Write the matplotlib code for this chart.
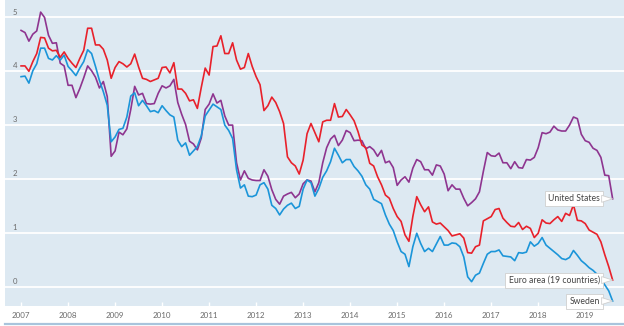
import numpy as np
import matplotlib
matplotlib.use("Agg")
import matplotlib.pyplot as plt
from matplotlib.lines import Line2D
from matplotlib.patches import Polygon
from matplotlib.transforms import IdentityTransform
from matplotlib import font_manager

# long-term interest rates, monthly, Jan 2007 - Aug 2019 (% per annum)
years = list(range(2007, 2020))

sweden = [
    3.90, 3.91, 3.78, 4.01, 4.14, 4.43, 4.43, 4.24, 4.21, 4.29, 4.21, 4.30,
    4.09, 4.01, 3.92, 4.06, 4.18, 4.40, 4.33, 4.09, 3.83, 3.62, 3.37, 2.69,
    2.78, 2.92, 2.94, 3.15, 3.54, 3.60, 3.36, 3.46, 3.36, 3.25, 3.27, 3.23,
    3.36, 3.27, 3.19, 3.15, 2.72, 2.60, 2.67, 2.44, 2.52, 2.60, 2.80, 3.17,
    3.28, 3.39, 3.34, 3.29, 3.00, 2.90, 2.75, 2.17, 1.83, 1.89, 1.68, 1.67,
    1.70, 1.89, 1.93, 1.81, 1.51, 1.45, 1.33, 1.44, 1.51, 1.55, 1.45, 1.49,
    1.81, 1.98, 1.93, 1.68, 1.82, 2.03, 2.15, 2.32, 2.57, 2.44, 2.30, 2.36,
    2.36, 2.23, 2.15, 2.05, 1.89, 1.81, 1.62, 1.58, 1.54, 1.33, 1.16, 1.04,
    0.83, 0.65, 0.60, 0.37, 0.74, 0.99, 0.80, 0.65, 0.71, 0.65, 0.79, 0.93,
    0.77, 0.77, 0.81, 0.80, 0.74, 0.55, 0.18, 0.09, 0.21, 0.25, 0.43, 0.60,
    0.65, 0.65, 0.68, 0.57, 0.56, 0.55, 0.48, 0.63, 0.62, 0.64, 0.83, 0.75,
    0.80, 0.91, 0.77, 0.71, 0.65, 0.59, 0.52, 0.50, 0.54, 0.67, 0.58, 0.48,
    0.42, 0.35, 0.30, 0.23, 0.15, 0.03, -0.08, -0.27,
]

euro_area = [
    4.10, 4.10, 4.00, 4.18, 4.33, 4.63, 4.62, 4.43, 4.38, 4.39, 4.26, 4.36,
    4.24, 4.15, 4.07, 4.24, 4.39, 4.80, 4.80, 4.49, 4.49, 4.41, 4.21, 3.87,
    4.07, 4.18, 4.14, 4.08, 4.14, 4.32, 4.08, 3.87, 3.85, 3.81, 3.84, 3.87,
    4.07, 4.08, 3.97, 4.16, 3.67, 3.67, 3.59, 3.45, 3.47, 3.31, 3.70, 4.06,
    3.93, 4.46, 4.47, 4.66, 4.33, 4.33, 4.53, 4.21, 4.04, 4.07, 4.33, 4.09,
    3.90, 3.75, 3.27, 3.36, 3.52, 3.42, 3.25, 3.03, 2.41, 2.30, 2.24, 2.09,
    2.35, 2.84, 3.03, 2.86, 2.69, 3.06, 3.09, 3.09, 3.40, 3.15, 3.16, 3.29,
    3.19, 3.08, 2.88, 2.63, 2.58, 2.29, 2.24, 2.04, 1.89, 1.70, 1.64, 1.45,
    1.30, 1.21, 0.96, 0.84, 1.30, 1.67, 1.52, 1.39, 1.48, 1.20, 1.16, 1.18,
    1.11, 1.04, 0.94, 0.96, 0.98, 0.90, 0.63, 0.62, 0.74, 0.77, 1.22, 1.26,
    1.30, 1.43, 1.45, 1.27, 1.19, 1.12, 1.11, 1.19, 1.06, 1.12, 1.08, 0.91,
    0.99, 1.24, 1.18, 1.17, 1.24, 1.30, 1.21, 1.36, 1.32, 1.52, 1.23, 1.22,
    1.17, 1.05, 1.01, 0.97, 0.83, 0.59, 0.37, 0.12,
]

united_states = [
    4.76, 4.72, 4.56, 4.69, 4.75, 5.10, 5.00, 4.67, 4.52, 4.53, 4.15, 4.10,
    3.74, 3.74, 3.51, 3.68, 3.88, 4.10, 4.01, 3.89, 3.69, 3.81, 3.53, 2.42,
    2.52, 2.87, 2.82, 2.93, 3.29, 3.72, 3.56, 3.59, 3.40, 3.39, 3.40, 3.59,
    3.73, 3.69, 3.73, 3.85, 3.42, 3.20, 3.01, 2.70, 2.65, 2.54, 2.76, 3.29,
    3.39, 3.58, 3.41, 3.46, 3.17, 3.00, 3.00, 2.30, 1.98, 2.15, 2.01, 1.98,
    1.97, 1.97, 2.17, 2.05, 1.80, 1.62, 1.53, 1.68, 1.72, 1.75, 1.65, 1.72,
    1.91, 1.98, 1.96, 1.76, 1.93, 2.30, 2.58, 2.74, 2.81, 2.62, 2.72, 2.90,
    2.86, 2.71, 2.72, 2.71, 2.56, 2.60, 2.54, 2.42, 2.53, 2.30, 2.33, 2.21,
    1.88, 1.98, 2.04, 1.94, 2.20, 2.36, 2.32, 2.17, 2.17, 2.07, 2.26, 2.24,
    2.09, 1.78, 1.89, 1.81, 1.81, 1.64, 1.50, 1.56, 1.63, 1.76, 2.14, 2.49,
    2.43, 2.42, 2.48, 2.30, 2.30, 2.19, 2.32, 2.21, 2.20, 2.36, 2.35, 2.40,
    2.58, 2.86, 2.84, 2.87, 2.98, 2.91, 2.89, 2.89, 3.00, 3.15, 3.12, 2.83,
    2.71, 2.68, 2.57, 2.53, 2.40, 2.07, 2.06, 1.63,
]

series = [
    ("United States", united_states, "#8e3590"),
    ("Sweden", sweden, "#1b95d9"),
    ("Euro area (19 countries)", euro_area, "#e8212b"),
]

# pick a narrow sans if there is one
available = {f.name for f in font_manager.fontManager.ttflist}
label_font = "Liberation Sans Narrow" if "Liberation Sans Narrow" in available else "Lato"

BG = "#dde9f2"
months = np.arange(len(sweden))

fig = plt.figure(figsize=(6.24, 3.26), dpi=100)
fig.patch.set_facecolor("white")
ax = fig.add_axes([5 / 624, 20 / 326, 619 / 624, 306 / 326])
ax.set_facecolor(BG)

for name, vals, col in series:
    ax.plot(months, vals, color=col, lw=1.2, solid_joinstyle="round", zorder=3)

ax.set_xlim(-4.1, 153.9)
ax.set_ylim(-0.362, 5.325)

# horizontal grid
for v in range(0, 6):
    ax.axhline(v, color="white", lw=1.3, zorder=1)
    ax.text(-2.2, v + 0.035, str(v), fontsize=5.6, color="#6b6b6b",
            family=label_font, ha="left", va="bottom", zorder=2)

ax.set_yticks([])
ax.set_xticks([12 * i for i in range(len(years))])
ax.set_xticklabels([str(y) for y in years], fontsize=5.8, color="#6b6b6b",
                   family=label_font)
ax.tick_params(axis="x", direction="in", length=3, width=1, color="white", pad=4)
for s in ax.spines.values():
    s.set_visible(False)

# end-of-line callouts: white box plus a small pointer to the last value
gap = 10  # px between box edge and the line end
for name, vals, col in series:
    tip = ax.transData.transform((months[-1], vals[-1]))
    ax.annotate(name, xy=(months[-1], vals[-1]), xytext=(-(gap + 3), 0),
                textcoords="offset pixels", ha="right", va="center",
                fontsize=6.2, color="#444444", family=label_font, zorder=6,
                bbox=dict(boxstyle="square,pad=0.35", fc="white", ec="#cfcfcf", lw=0.6))
    tri = Polygon([tip, (tip[0] - gap - 1, tip[1] + 3.5), (tip[0] - gap - 1, tip[1] - 3.5)],
                  closed=True, fc="white", ec="#cfcfcf", lw=0.6,
                  transform=IdentityTransform(), zorder=5)
    fig.add_artist(tri)

# thin rule along the bottom edge
fig.add_artist(Line2D([5 / 624, 1.0], [2.2 / 326, 2.2 / 326],
                      color="#a8c4dc", lw=1.6, transform=fig.transFigure))

fig.savefig("out.png", dpi=100, facecolor="white")
